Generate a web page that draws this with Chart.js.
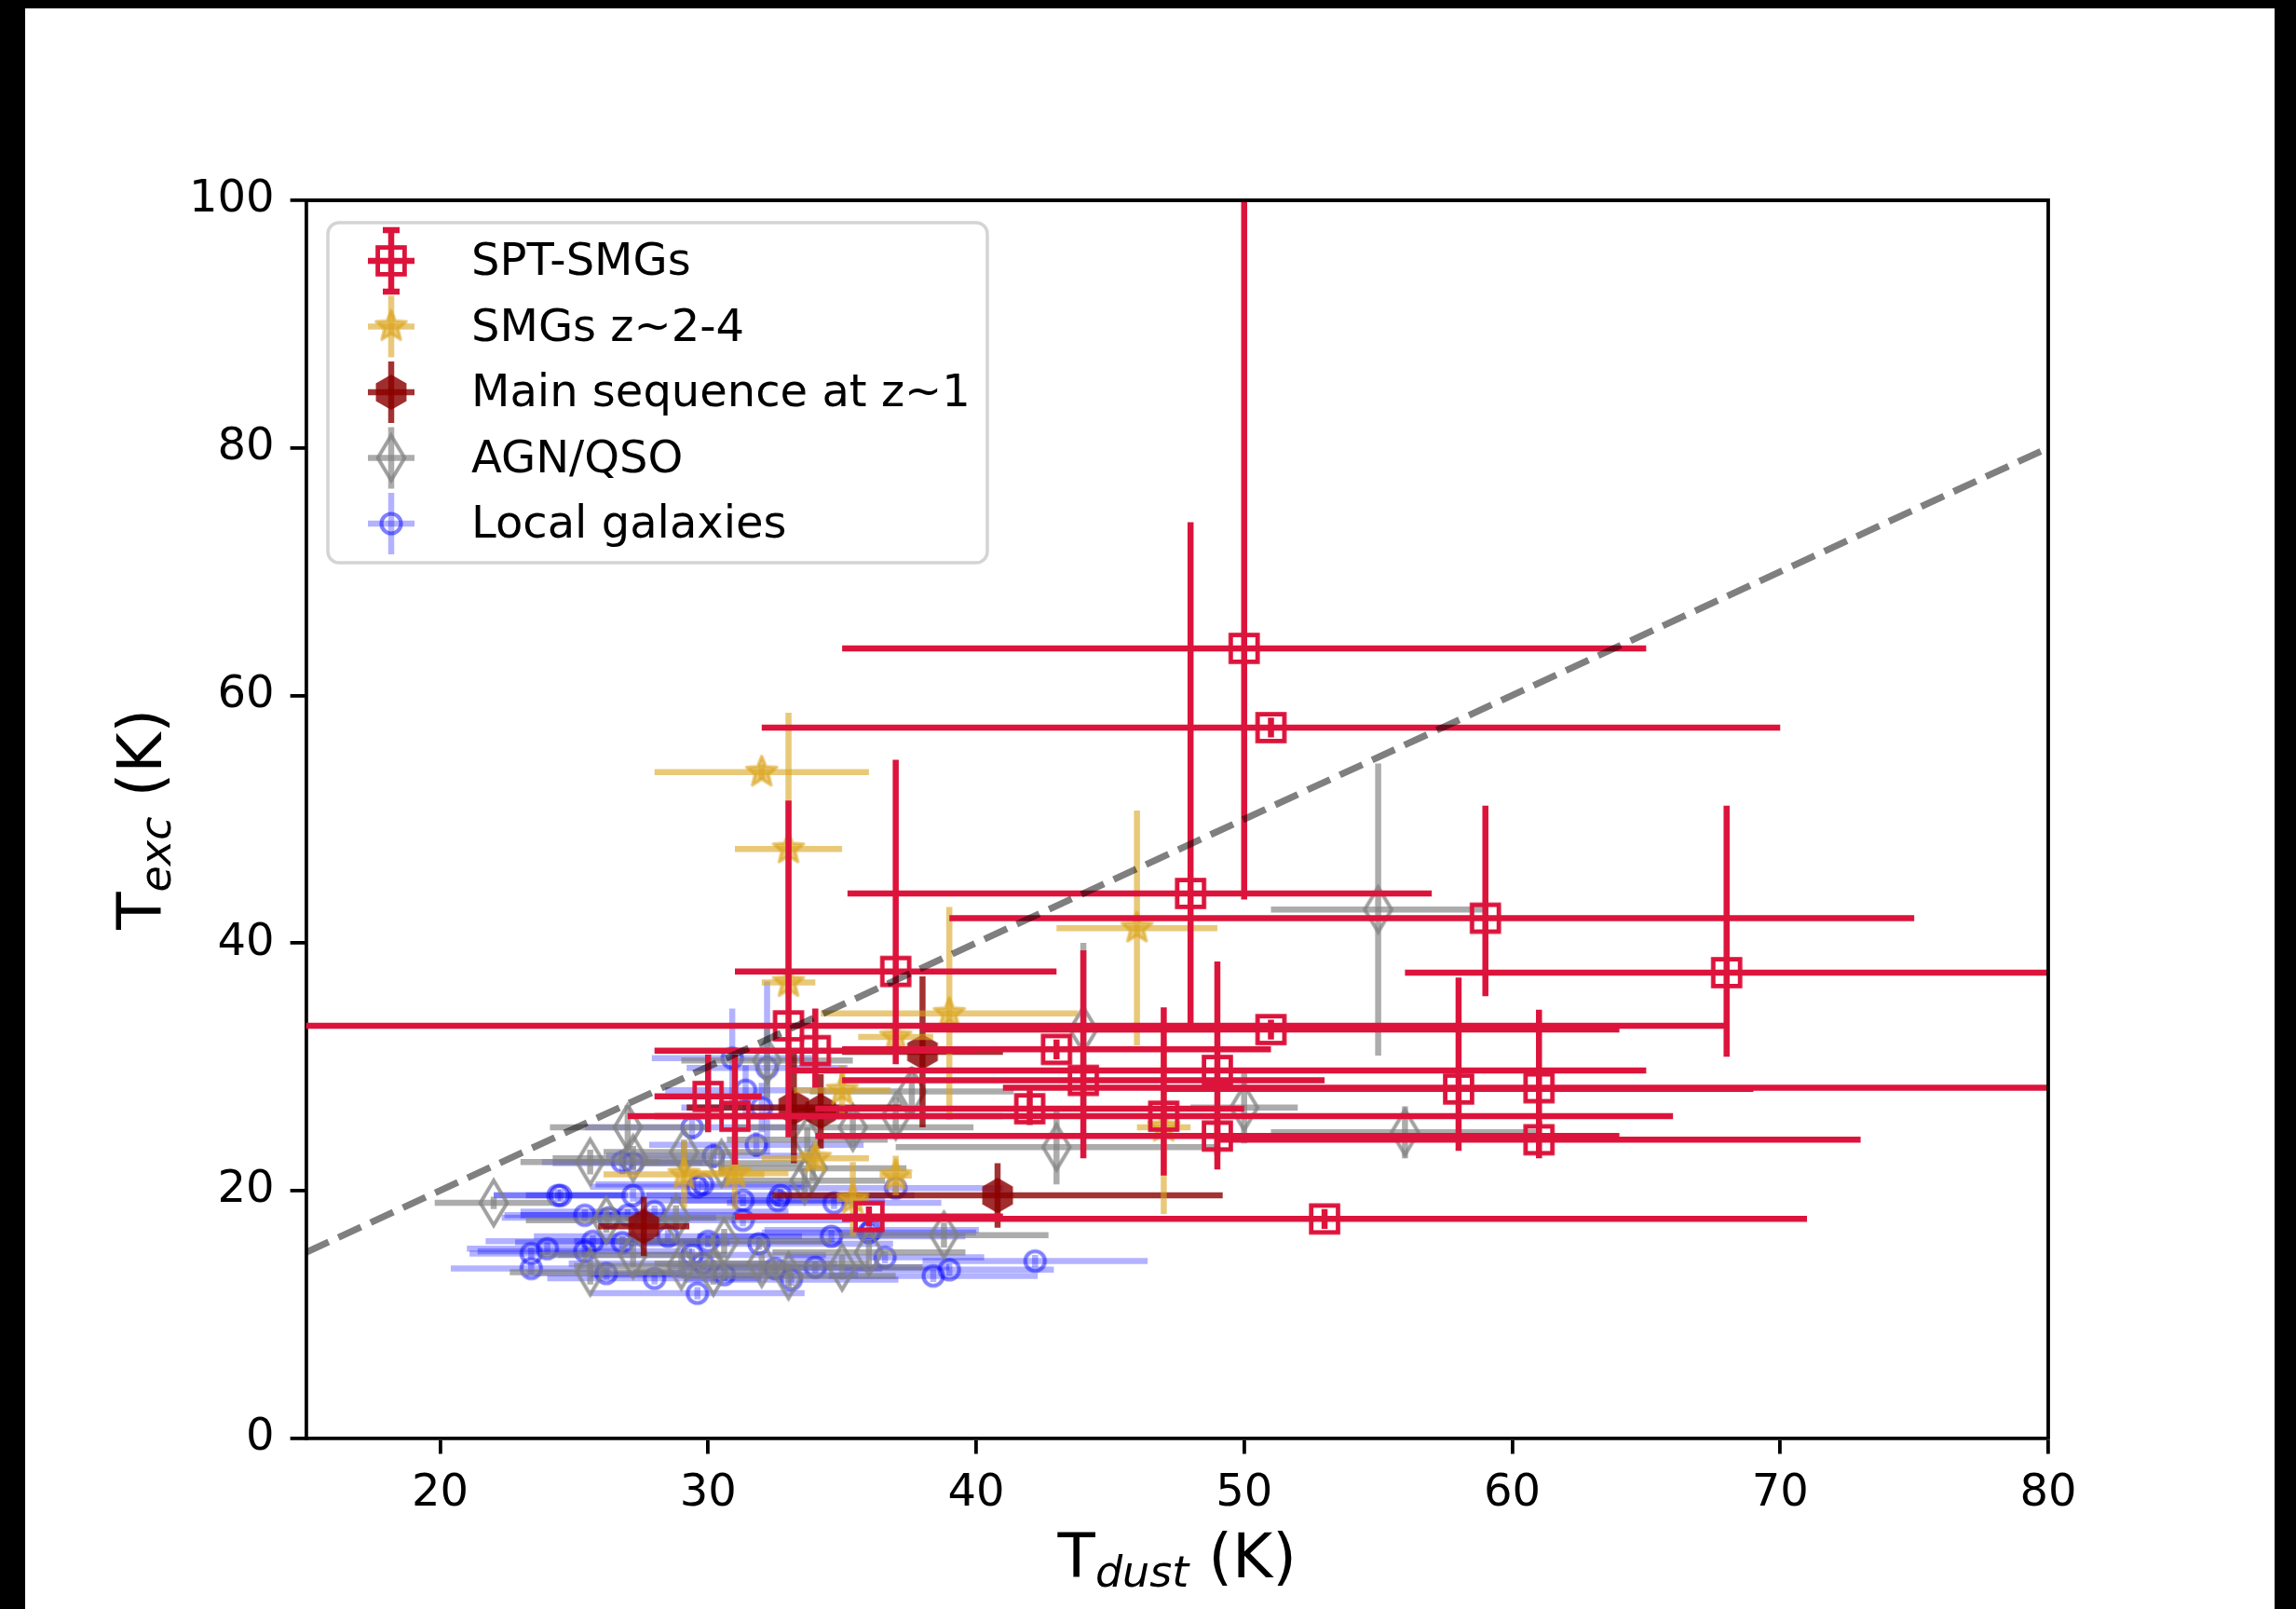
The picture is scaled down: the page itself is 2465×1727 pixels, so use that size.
<!DOCTYPE html>
<html lang="en">
<head>
    <meta charset="UTF-8">
    <title>Texc vs Tdust</title>
    <script src="https://cdn.jsdelivr.net/npm/chart.js"></script>
    <style>
        html, body {
            margin: 0;
            padding: 0;
            background-color: #000;
        }

        #wrap {
            width: 2465px;
            height: 1727px;
        }

        canvas {
            display: block;
        }
    </style>
</head>
<body>
    <div id="wrap"><canvas id="tempChart" width="2465" height="1727"></canvas></div>

    <script>
        // values: T_dust on x, T_exc on y (K)
        const sptTdust   = [50, 51, 48, 59, 68, 37, 33, 51, 34, 43, 44, 30, 31, 42, 47, 49, 49, 58, 61, 61, 36, 53];
        const sptTexc    = [63.8, 57.4, 44.0, 42.0, 37.6, 37.7, 33.3, 33.0, 31.3, 31.4, 28.9, 27.6, 26.0, 26.6, 26.0, 29.7, 24.4, 28.2, 28.3, 24.1, 17.9, 17.7];
        const sptTdustLo = [15, 19, 12.8, 20, 12, 6, 35, 13, 6, 8, 9, 2, 4, 8, 19, 16, 15, 11, 20, 12, 5, 18];
        const sptTdustHi = [15, 19, 9, 16, 12, 6, 35, 13, 6, 8, 9, 2, 4, 8, 19, 16, 15, 11, 20, 12, 5, 18];
        const sptTexcLo  = [20.3, 0.8, 11.2, 6.3, 6.8, 7.5, 9, 0.8, 3, 0.8, 6.3, 2.9, 3.9, 1.3, 4.8, 8, 1.5, 5, 3, 1.5, 0.8, 0.8];
        const sptTexcHi  = [40, 0.8, 30, 9.1, 13.5, 17.1, 18.2, 0.8, 3.4, 0.8, 10.5, 3.4, 5, 1.5, 8.8, 8.8, 1.5, 9, 6.3, 1.5, 0.8, 0.8];

        const smgTdust    = [32, 33, 33, 46, 39, 37, 35, 34, 37, 35.4, 29.1, 31, 47];
        const smgTexc     = [53.8, 47.6, 36.8, 41.2, 34.3, 32.4, 28.1, 22.6, 21.2, 19.3, 21.3, 21.4, 25.1];
        const smgTdustErr = [4, 2, 1, 3, 4.8, 1.4, 1.8, 2, 0.6, 0.6, 3, 2, 1];
        const smgTexcErr  = [0.6, 11, 1, 9.5, 8.6, 1, 2, 1, 1.6, 3, 2.7, 2.9, 7];

        const msTdust    = [38, 33.2, 34.2, 40.8, 27.6];
        const msTexc     = [31.2, 26.7, 26.4, 19.6, 17.1];
        const msTdustErr = [3, 4, 1, 8.4, 1.7];
        const msTexcErr  = [6.1, 4.5, 3, 2.6, 2.4];

        const agnTdust    = [55, 44, 50, 56, 43, 37.6, 35.4, 37, 33.9, 33.6, 32.2, 27.0, 25.6, 27.2, 29.1, 30.5, 22.0, 26.2, 28.8, 30.6, 25.6, 27.2, 29.0, 30.2, 32.0, 33.0, 35.0, 36.0, 38.8, 33.7];
        const agnTexc     = [42.7, 33.0, 26.7, 24.7, 23.5, 28.0, 25.1, 26.0, 21.8, 20.8, 30.5, 25.1, 22.3, 22.6, 23.1, 22.2, 19.0, 17.6, 17.8, 15.9, 13.4, 14.8, 13.9, 13.4, 14.1, 13.1, 13.8, 15.0, 16.4, 24.1];
        const agnTdustErr = [4, 5, 2, 5, 6, 3.8, 4.5, 4, 3.5, 3, 3.2, 2.9, 2.6, 3, 3, 3, 2.2, 3, 3, 4, 3, 3.5, 4, 3, 4, 4, 3, 3.6, 3.9, 3];
        const agnTexcErr  = [11.8, 7, 2.9, 2.1, 3, 2, 1.5, 1.5, 1, 1, 3, 1.8, 1, 1, 1, 1, 0.5, 1, 1, 1, 1, 1, 1, 1, 1, 1, 1, 1, 1, 1];

        const localTdust    = [24.4, 27.2, 25.4, 26.3, 27.0, 28.0, 24.0, 23.4, 23.4, 25.4, 25.7, 26.2, 26.8, 28.0, 28.5, 29.4, 29.8, 29.6, 30.0, 30.6,
                               31.9, 34.0, 34.6, 32.7, 31.3, 31.3, 27.2, 29.6, 30.2, 31.8, 29.4, 36.6, 36.1, 32.5, 33.1, 42.2, 39.0, 38.4, 36.0, 30.9,
                               32.2, 31.4, 32.0, 26.8, 24.5, 32.6, 29.8, 37.0, 34.7];
        const localTexc     = [19.6, 19.6, 18.0, 17.8, 18.0, 18.3, 15.3, 14.9, 13.7, 15.1, 15.9, 13.3, 15.8, 12.9, 16.3, 14.8, 14.1, 11.7, 15.9, 13.2,
                               15.7, 13.8, 16.3, 19.6, 19.2, 17.6, 22.2, 20.3, 22.8, 23.7, 25.1, 14.6, 16.8, 13.7, 12.8, 14.3, 13.6, 13.1, 16.6, 30.7,
                               29.9, 28.1, 26.7, 22.3, 19.6, 19.2, 20.5, 20.2, 19.0];
        const localTdustErr = [2.4, 4, 3, 4, 4, 5, 3, 2.3, 3, 4, 4, 3, 4, 4, 5, 5, 5, 4, 5, 5,
                               5, 5, 5, 5, 4, 4, 3, 4, 4, 4, 4, 3.7, 4, 4, 4, 4.2, 3.9, 3.9, 4, 3,
                               3, 3, 3, 3, 2.5, 4, 4, 4, 4];
        const localTexcErr  = [0.5, 0.5, 0.5, 0.5, 0.5, 0.5, 0.5, 0.5, 0.5, 0.5, 0.5, 0.5, 0.5, 0.5, 0.5, 0.5, 0.5, 0.5, 0.5, 0.5,
                               0.5, 0.5, 0.5, 0.5, 0.5, 0.5, 0.5, 0.5, 1, 1, 1, 0.5, 0.5, 0.5, 0.5, 0.5, 0.5, 0.5, 0.5, 4,
                               7, 2, 2, 1, 0.5, 0.5, 0.5, 0.5, 0.5];

        const unityLine = [15, 80];
        const xTicks = [20, 30, 40, 50, 60, 70, 80];
        const yTicks = [0, 20, 40, 60, 80, 100];
        const seriesLabels = ['SPT-SMGs', 'SMGs z~2-4', 'Main sequence at z~1', 'AGN/QSO', 'Local galaxies'];

        const FONT = '"DejaVu Sans"';
        const ERR_WIDTH = 6.5;

        function buildPoints(xs, ys, xLo, xHi, yLo, yHi) {
            return xs.map((x, i) => ({ x: x, y: ys[i], xLo: xLo[i], xHi: xHi[i], yLo: yLo[i], yHi: yHi[i] }));
        }

        // small canvases used as point styles
        function makeMarker(size, paint) {
            const c = document.createElement('canvas');
            c.width = size;
            c.height = size;
            const g = c.getContext('2d');
            g.translate(size / 2, size / 2);
            paint(g);
            return c;
        }

        const squareMarker = makeMarker(40, g => {
            g.strokeStyle = '#dc143c';
            g.lineWidth = 4.8;
            g.strokeRect(-14.4, -14.4, 28.8, 28.8);
        });

        const starMarker = makeMarker(48, g => {
            g.beginPath();
            for (let i = 0; i < 10; i++) {
                const r = i % 2 === 0 ? 17 : 7.5;
                const a = -Math.PI / 2 + i * Math.PI / 5;
                g.lineTo(r * Math.cos(a), r * Math.sin(a));
            }
            g.closePath();
            g.fillStyle = 'rgba(218,165,32,0.6)';
            g.fill();
            g.strokeStyle = 'rgba(218,165,32,0.6)';
            g.lineWidth = 3.5;
            g.lineJoin = 'round';
            g.stroke();
        });

        const hexMarker = makeMarker(48, g => {
            g.beginPath();
            for (let i = 0; i < 6; i++) {
                const a = -Math.PI / 2 + i * Math.PI / 3;
                g.lineTo(19 * Math.cos(a), 19 * Math.sin(a));
            }
            g.closePath();
            g.fillStyle = 'rgba(139,0,0,0.82)';
            g.fill();
        });

        const diamondMarker = makeMarker(60, g => {
            g.beginPath();
            g.moveTo(0, -24);
            g.lineTo(14.4, 0);
            g.lineTo(0, 24);
            g.lineTo(-14.4, 0);
            g.closePath();
            g.strokeStyle = 'rgba(128,128,128,0.75)';
            g.lineWidth = 4;
            g.stroke();
        });

        const circleMarker = makeMarker(36, g => {
            g.beginPath();
            g.arc(0, 0, 10.5, 0, Math.PI * 2);
            g.strokeStyle = 'rgba(0,0,255,0.5)';
            g.lineWidth = 4.2;
            g.stroke();
        });

        // error bars are drawn just before each dataset's markers
        const errorBarPlugin = {
            id: 'errorBars',
            beforeDatasetDraw(chart, args) {
                const ds = chart.data.datasets[args.index];
                if (!ds.errorColor) return;
                const ctx = chart.ctx;
                const area = chart.chartArea;
                const sx = chart.scales.x;
                const sy = chart.scales.y;
                ctx.save();
                ctx.beginPath();
                ctx.rect(area.left, area.top, area.right - area.left, area.bottom - area.top);
                ctx.clip();
                ctx.strokeStyle = ds.errorColor;
                ctx.lineWidth = ERR_WIDTH;
                ctx.lineCap = 'butt';
                ds.data.forEach(p => {
                    const px = sx.getPixelForValue(p.x);
                    const py = sy.getPixelForValue(p.y);
                    ctx.beginPath();
                    ctx.moveTo(sx.getPixelForValue(p.x - p.xLo), py);
                    ctx.lineTo(sx.getPixelForValue(p.x + p.xHi), py);
                    ctx.stroke();
                    ctx.beginPath();
                    ctx.moveTo(px, sy.getPixelForValue(p.y - p.yLo));
                    ctx.lineTo(px, sy.getPixelForValue(p.y + p.yHi));
                    ctx.stroke();
                });
                ctx.restore();
            }
        };

        function drawAxisTitle(ctx, x, y, main, sub, tail, angle) {
            const big = '66px ' + FONT;
            const small = 'italic 46px ' + FONT;
            ctx.save();
            ctx.translate(x, y);
            ctx.rotate(angle);
            ctx.fillStyle = '#000';
            ctx.textAlign = 'left';
            ctx.textBaseline = 'alphabetic';
            ctx.font = big;
            const w1 = ctx.measureText(main).width;
            const w3 = ctx.measureText(tail).width;
            ctx.font = small;
            const w2 = ctx.measureText(sub).width;
            let cx = -(w1 + w2 + w3) / 2;
            ctx.font = big;
            ctx.fillText(main, cx, 0);
            cx += w1;
            ctx.font = small;
            ctx.fillText(sub, cx, 10);
            cx += w2;
            ctx.font = big;
            ctx.fillText(tail, cx, 0);
            ctx.restore();
        }

        const framePlugin = {
            id: 'frame',
            beforeDraw(chart) {
                const ctx = chart.ctx;
                ctx.save();
                ctx.fillStyle = '#000';
                ctx.fillRect(0, 0, chart.width, chart.height);
                ctx.fillStyle = '#fff';
                ctx.fillRect(27, 9, 2415, chart.height - 9);
                ctx.restore();
            },
            afterDraw(chart) {
                const ctx = chart.ctx;
                const a = chart.chartArea;
                ctx.save();
                // top and right spines
                ctx.strokeStyle = '#000';
                ctx.lineWidth = 3.8;
                ctx.beginPath();
                ctx.moveTo(a.left, a.top);
                ctx.lineTo(a.right, a.top);
                ctx.lineTo(a.right, a.bottom);
                ctx.stroke();

                // legend
                const bx = 352, by = 239, bw = 708, bh = 365;
                ctx.beginPath();
                ctx.roundRect(bx, by, bw, bh, 12);
                ctx.fillStyle = 'rgba(255,255,255,0.8)';
                ctx.fill();
                ctx.strokeStyle = '#d4d4d4';
                ctx.lineWidth = 3.5;
                ctx.stroke();

                const ds = chart.data.datasets.filter(d => d.errorColor);
                ds.forEach((d, i) => {
                    const cy = 280 + i * 70.5;
                    const cx = 420;
                    ctx.strokeStyle = d.errorColor;
                    ctx.lineWidth = ERR_WIDTH;
                    ctx.beginPath();
                    ctx.moveTo(cx - 25, cy);
                    ctx.lineTo(cx + 25, cy);
                    ctx.stroke();
                    ctx.beginPath();
                    ctx.moveTo(cx, cy - 33);
                    ctx.lineTo(cx, cy + 33);
                    ctx.stroke();
                    if (i === 0) {
                        ctx.beginPath();
                        ctx.moveTo(cx - 9, cy - 33);
                        ctx.lineTo(cx + 9, cy - 33);
                        ctx.moveTo(cx - 9, cy + 33);
                        ctx.lineTo(cx + 9, cy + 33);
                        ctx.stroke();
                    }
                    const m = d.pointStyle;
                    ctx.drawImage(m, cx - m.width / 2, cy - m.height / 2);
                    ctx.fillStyle = '#000';
                    ctx.font = '48px ' + FONT;
                    ctx.textAlign = 'left';
                    ctx.textBaseline = 'middle';
                    ctx.fillText(d.label, 506, cy + 3);
                });

                // axis titles with subscripts
                drawAxisTitle(ctx, (a.left + a.right) / 2, 1693, 'T', 'dust', ' (K)', 0);
                drawAxisTitle(ctx, 173, (a.top + a.bottom) / 2, 'T', 'exc', ' (K)', -Math.PI / 2);
                ctx.restore();
            }
        };

        const ctx = document.getElementById('tempChart').getContext('2d');

        new Chart(ctx, {
            type: 'scatter',
            data: {
                datasets: [
                    {
                        label: '1:1',
                        data: unityLine.map(v => ({ x: v, y: v })),
                        showLine: true,
                        pointRadius: 0,
                        borderColor: 'rgba(0,0,0,0.5)',
                        borderWidth: 7.2,
                        borderDash: [26.7, 11.5],
                        borderCapStyle: 'butt',
                        order: 0
                    },
                    {
                        label: seriesLabels[0],
                        data: buildPoints(sptTdust, sptTexc, sptTdustLo, sptTdustHi, sptTexcLo, sptTexcHi),
                        pointStyle: squareMarker,
                        pointRadius: 15,
                        errorColor: '#dc143c',
                        order: 1
                    },
                    {
                        label: seriesLabels[1],
                        data: buildPoints(smgTdust, smgTexc, smgTdustErr, smgTdustErr, smgTexcErr, smgTexcErr),
                        pointStyle: starMarker,
                        pointRadius: 15,
                        errorColor: 'rgba(218,165,32,0.6)',
                        order: 2
                    },
                    {
                        label: seriesLabels[2],
                        data: buildPoints(msTdust, msTexc, msTdustErr, msTdustErr, msTexcErr, msTexcErr),
                        pointStyle: hexMarker,
                        pointRadius: 15,
                        errorColor: 'rgba(139,0,0,0.8)',
                        order: 3
                    },
                    {
                        label: seriesLabels[3],
                        data: buildPoints(agnTdust, agnTexc, agnTdustErr, agnTdustErr, agnTexcErr, agnTexcErr),
                        pointStyle: diamondMarker,
                        pointRadius: 15,
                        errorColor: 'rgba(128,128,128,0.65)',
                        order: 4
                    },
                    {
                        label: seriesLabels[4],
                        data: buildPoints(localTdust, localTexc, localTdustErr, localTdustErr, localTexcErr, localTexcErr),
                        pointStyle: circleMarker,
                        pointRadius: 10,
                        errorColor: 'rgba(0,0,255,0.3)',
                        order: 5
                    }
                ]
            },
            options: {
                responsive: false,
                devicePixelRatio: 1,
                animation: false,
                events: [],
                layout: {
                    padding: { left: 0, right: 266, top: 215, bottom: 0 }
                },
                plugins: {
                    legend: { display: false },
                    tooltip: { enabled: false }
                },
                scales: {
                    x: {
                        type: 'linear',
                        min: 15,
                        max: 80,
                        afterBuildTicks: axis => { axis.ticks = xTicks.map(v => ({ value: v })); },
                        afterFit: axis => { axis.height = 183.5; },
                        grid: { drawOnChartArea: false, tickLength: 17, lineWidth: 3.8, color: '#000' },
                        border: { display: true, width: 3.8, color: '#000' },
                        ticks: { font: { family: 'DejaVu Sans', size: 48 }, color: '#000', padding: 14, maxRotation: 0 }
                    },
                    y: {
                        type: 'linear',
                        min: 0,
                        max: 100,
                        afterBuildTicks: axis => { axis.ticks = yTicks.map(v => ({ value: v })); },
                        afterFit: axis => { axis.width = 328.6; },
                        grid: { drawOnChartArea: false, tickLength: 17, lineWidth: 3.8, color: '#000' },
                        border: { display: true, width: 3.8, color: '#000' },
                        ticks: { font: { family: 'DejaVu Sans', size: 48 }, color: '#000', padding: 17 }
                    }
                }
            },
            plugins: [framePlugin, errorBarPlugin]
        });
    </script>
</body>
</html>
